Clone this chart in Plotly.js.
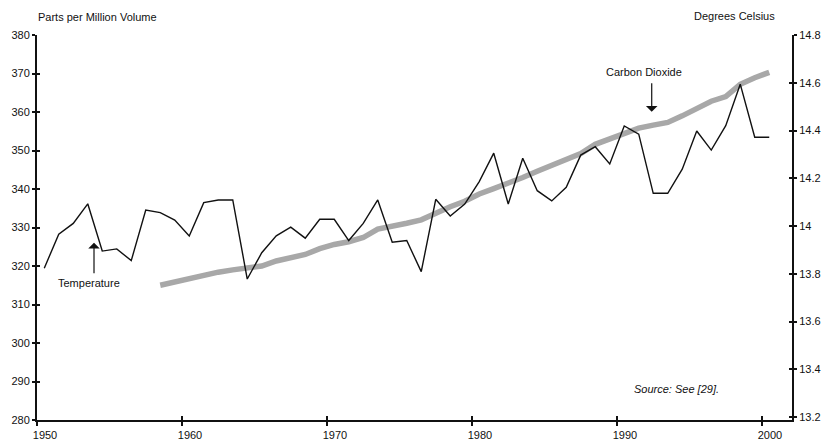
<!DOCTYPE html>
<html><head><meta charset="utf-8">
<script src="https://cdn.plot.ly/plotly-3.0.1.min.js"></script>
<style>html,body{margin:0;padding:0;background:#fff}#chart{width:824px;height:440px}</style>
</head><body><div id="chart"></div>
<script>
// ---- data ----
const tempYears = [1950,1951,1952,1953,1954,1955,1956,1957,1958,1959,
  1960,1961,1962,1963,1964,1965,1966,1967,1968,1969,
  1970,1971,1972,1973,1974,1975,1976,1977,1978,1979,
  1980,1981,1982,1983,1984,1985,1986,1987,1988,1989,
  1990,1991,1992,1993,1994,1995,1996,1997,1998,1999,2000];
const temperature = [13.823,13.966,14.011,14.093,13.895,13.904,13.855,14.067,14.056,14.025,
  13.958,14.098,14.109,14.109,13.778,13.888,13.959,13.995,13.949,14.028,
  14.028,13.939,14.011,14.109,13.932,13.939,13.809,14.112,14.042,14.092,
  14.186,14.305,14.092,14.284,14.148,14.105,14.162,14.297,14.332,14.260,
  14.419,14.385,14.137,14.137,14.238,14.398,14.318,14.420,14.594,14.372,14.372];
const co2Years = [1958,1959,1960,1961,1962,1963,1964,1965,1966,1967,1968,1969,
  1970,1971,1972,1973,1974,1975,1976,1977,1978,1979,
  1980,1981,1982,1983,1984,1985,1986,1987,1988,1989,
  1990,1991,1992,1993,1994,1995,1996,1997,1998,1999,2000];
const co2 = [315.0,315.9,316.9,317.6,318.4,319.0,319.4,320.0,321.3,322.1,323.0,324.5,
  325.6,326.3,327.4,329.6,330.2,331.1,332.0,333.8,335.4,336.8,
  338.7,340.1,341.4,343.0,344.6,346.1,347.4,349.2,351.6,353.1,
  354.6,355.8,356.6,357.3,359.0,361.0,362.8,364.0,367.2,368.9,370.3];
const xTickLabels = ['1950','1960','1970','1980','1990','2000'];
const ppmTicks = [280,290,300,310,320,330,340,350,360,370,380];
const celsiusTickLabels = ['13.2','13.4','13.6','13.8','14','14.2','14.4','14.6','14.8'];

// points are plotted at mid-year, labels sit at the start of each year
const xTickVals = xTickLabels.map(s => Number(s) - 0.5);
const celsiusTickVals = celsiusTickLabels.map(Number);

const FONT = 'Arial, "Liberation Sans", Helvetica, sans-serif';
const INK = '#111';
const xRange = [1949.5, 2001.57];
const yRange = [280, 380];
const y2Range = [13.1875, 14.8];

const traces = [
  {x: co2Years, y: co2, type: 'scatter', mode: 'lines', xaxis: 'x', yaxis: 'y',
   line: {color: '#a8a8a8', width: 5.5}, hoverinfo: 'skip', showlegend: false},
  {x: tempYears, y: temperature, type: 'scatter', mode: 'lines', xaxis: 'x', yaxis: 'y2',
   line: {color: INK, width: 1.4}, hoverinfo: 'skip', showlegend: false},
  {x: [], y: [], type: 'scatter', mode: 'lines', xaxis: 'x2', yaxis: 'y3', showlegend: false, hoverinfo: 'skip'},
  {x: [], y: [], type: 'scatter', mode: 'lines', xaxis: 'x', yaxis: 'y4', showlegend: false, hoverinfo: 'skip'}
];

const baseAxis = {showgrid: false, zeroline: false, fixedrange: true,
  tickfont: {family: FONT, size: 11, color: INK}, tickcolor: INK};

const layout = {
  width: 824, height: 440,
  margin: {l: 37, r: 32, t: 35, b: 20, pad: 0},
  paper_bgcolor: '#fff', plot_bgcolor: '#fff',
  font: {family: FONT, size: 11, color: INK},
  showlegend: false,
  xaxis: Object.assign({}, baseAxis, {range: xRange, tickmode: 'array', tickvals: xTickVals, ticktext: xTickLabels,
    showline: true, linecolor: INK, linewidth: 2, ticks: 'outside', ticklen: 4, tickwidth: 1.5,
    ticklabelshift: 8, anchor: 'y'}),
  xaxis2: Object.assign({}, baseAxis, {range: xRange, overlaying: 'x', anchor: 'y', side: 'bottom',
    tickmode: 'array', tickvals: xTickVals, showticklabels: false, showline: false,
    ticks: 'inside', ticklen: 4, tickwidth: 1.5}),
  yaxis: Object.assign({}, baseAxis, {range: yRange, tickmode: 'array', tickvals: ppmTicks,
    showline: true, linecolor: INK, linewidth: 2, ticks: 'outside', ticklen: 3, tickwidth: 2, anchor: 'x'}),
  yaxis3: Object.assign({}, baseAxis, {range: yRange, overlaying: 'y', side: 'left', anchor: 'x',
    tickmode: 'array', tickvals: ppmTicks, showticklabels: false, showline: false,
    ticks: 'inside', ticklen: 3, tickwidth: 2}),
  yaxis2: Object.assign({}, baseAxis, {range: y2Range, overlaying: 'y', side: 'right', anchor: 'x',
    tickmode: 'array', tickvals: celsiusTickVals, ticktext: celsiusTickLabels,
    showline: true, linecolor: INK, linewidth: 2, ticks: 'outside', ticklen: 3, tickwidth: 2}),
  yaxis4: Object.assign({}, baseAxis, {range: y2Range, overlaying: 'y', side: 'right', anchor: 'x',
    tickmode: 'array', tickvals: celsiusTickVals, showticklabels: false, showline: false,
    ticks: 'inside', ticklen: 3, tickwidth: 2}),
  annotations: [
    {text: 'Parts per Million Volume', xref: 'paper', yref: 'paper', x: -0.0013, y: 1.0468,
     xanchor: 'left', yanchor: 'middle', showarrow: false, font: {family: FONT, size: 11, color: INK}},
    {text: 'Degrees Celsius', xref: 'paper', yref: 'paper', x: 0.9801, y: 1.0494,
     xanchor: 'right', yanchor: 'middle', showarrow: false, font: {family: FONT, size: 11, color: INK}},
    {text: 'Temperature', xref: 'paper', yref: 'paper', x: 0.0689, y: 0.3558,
     xanchor: 'center', yanchor: 'middle', showarrow: false, font: {family: FONT, size: 11, color: INK}},
    {text: '', xref: 'paper', yref: 'paper', x: 0.0755, y: 0.4605, showarrow: true,
     ax: 0, ay: 32, arrowhead: 1, arrowsize: 1.6, arrowwidth: 1.2, arrowcolor: INK, standoff: 0},
    {text: 'Carbon Dioxide', xref: 'paper', yref: 'paper', x: 0.8046, y: 0.9047,
     xanchor: 'center', yanchor: 'middle', showarrow: false, font: {family: FONT, size: 11, color: INK}},
    {text: '', xref: 'paper', yref: 'paper', x: 0.8142, y: 0.8008, showarrow: true,
     ax: 0, ay: -30, arrowhead: 1, arrowsize: 1.6, arrowwidth: 1.2, arrowcolor: INK, standoff: 0},
    {text: '<i>Source: See [29].</i>', xref: 'paper', yref: 'paper', x: 0.8464, y: 0.0805,
     xanchor: 'center', yanchor: 'middle', showarrow: false, font: {family: FONT, size: 11, color: INK}}
  ]
};

Plotly.newPlot('chart', traces, layout, {staticPlot: true, displayModeBar: false});
</script>
</body></html>
